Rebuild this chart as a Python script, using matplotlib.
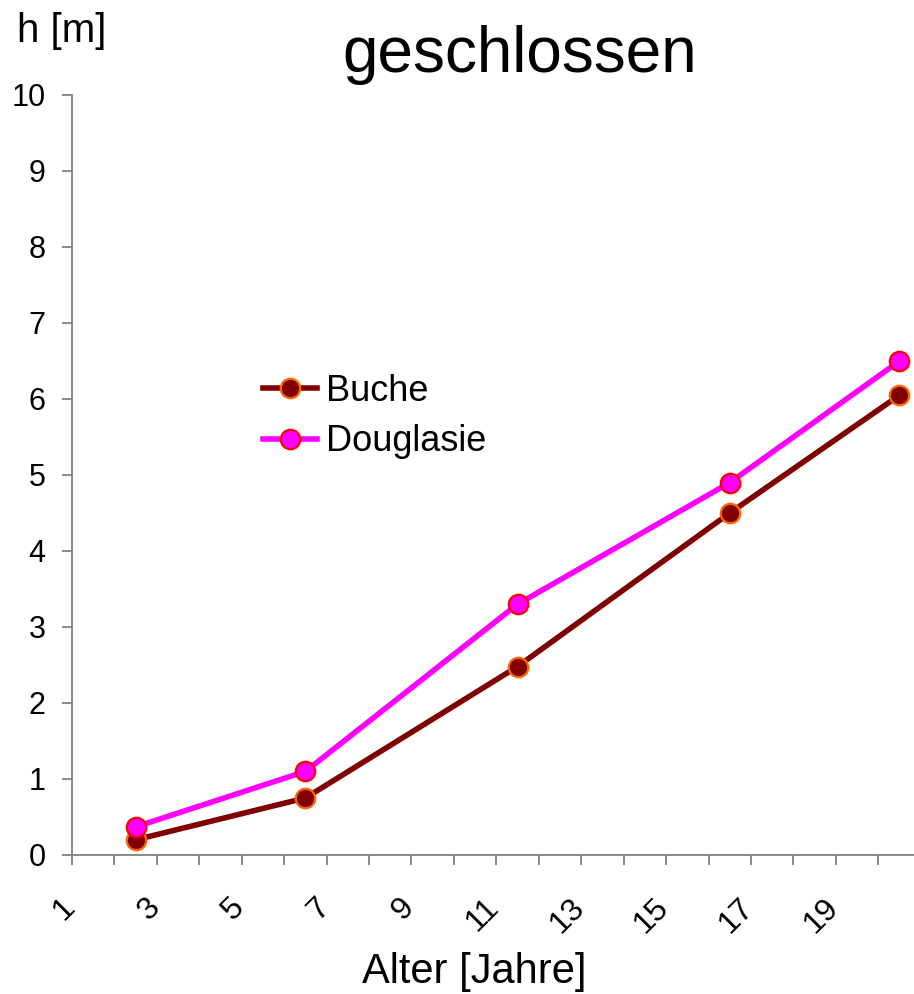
import matplotlib.pyplot as plt
import matplotlib.transforms as mtransforms

# data
alter = [2.5, 6.5, 11.5, 16.5, 20.5]
buche = [0.2, 0.75, 2.48, 4.5, 6.05]
douglasie = [0.37, 1.1, 3.3, 4.9, 6.5]

x_ticks = list(range(1, 21))
x_labels = [str(t) if t % 2 == 1 else '' for t in x_ticks]
y_ticks = list(range(0, 11))

plt.rcParams['font.family'] = ['Liberation Sans', 'DejaVu Sans']

fig = plt.figure(figsize=(9.14, 9.94), dpi=100)
ax = fig.add_axes([72/914, 1-855/994, 1-72/914, (855-95)/994])

ax.plot(alter, buche, color='#800000', lw=4, marker='o', ms=14,
        mfc='#800000', mec='#FF6600', mew=1.6, label='Buche', clip_on=False, zorder=3)
ax.plot(alter, douglasie, color='#FF00FF', lw=4, marker='o', ms=14,
        mfc='#FF00FF', mec='#FF0000', mew=1.6, label='Douglasie', clip_on=False, zorder=3)

ax.set_xlim(1.03, 1.03 + (914-72)/42.5)
ax.set_ylim(0, 10)

for s in ['top', 'right']:
    ax.spines[s].set_visible(False)
for s in ['left', 'bottom']:
    ax.spines[s].set_color('#808080')
    ax.spines[s].set_linewidth(1.3)

ax.set_yticks(y_ticks)
ax.tick_params(axis='y', length=7, width=1.3, color='#808080', labelsize=22, pad=12)
ax.set_xticks(x_ticks)
ax.set_xticklabels(x_labels, rotation=45, ha='right', va='top', fontsize=23)
ax.tick_params(axis='x', length=7, width=1.3, color='#808080', pad=20)
off = mtransforms.ScaledTranslation(0.09, 0, fig.dpi_scale_trans)
for lab in ax.get_xticklabels():
    lab.set_transform(lab.get_transform() + off)

leg = ax.legend(loc='upper left', bbox_to_anchor=(263/914, 1-374/994),
                bbox_transform=fig.transFigure, frameon=False, fontsize=26,
                handlelength=1.5, handletextpad=0.25, labelspacing=0.42,
                borderpad=0, borderaxespad=0)

fig.text(520/914, 1-72/994, 'geschlossen', fontsize=46, ha='center', va='baseline')
fig.text(17/914, 1-42/994, 'h [m]', fontsize=29, ha='left', va='baseline')
fig.text(474/914, 1-983/994, 'Alter [Jahre]', fontsize=30, ha='center', va='baseline')

plt.savefig('out.png', dpi=100)
